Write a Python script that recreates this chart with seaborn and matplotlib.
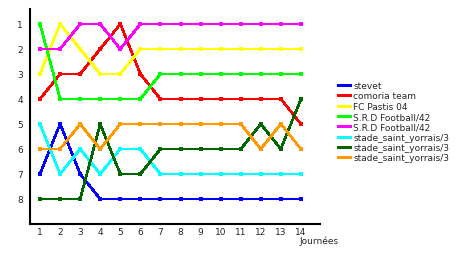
import matplotlib
matplotlib.use("Agg")
import matplotlib.pyplot as plt
import seaborn as sns
import pandas as pd

journees = list(range(1, 15))
teams = ["stevet", "comoria team", "FC Pastis 04", "S.R.D Football/42",
         "S.R.D Football/42 ", "stade_saint_yorrais/3", "stade_saint_yorrais/3 ",
         "stade_saint_yorrais/3  "]
stevet = [7, 5, 7, 8, 8, 8, 8, 8, 8, 8, 8, 8, 8, 8]
comoria = [4, 3, 3, 2, 1, 3, 4, 4, 4, 4, 4, 4, 4, 5]
pastis = [3, 1, 2, 3, 3, 2, 2, 2, 2, 2, 2, 2, 2, 2]
srd_a = [1, 4, 4, 4, 4, 4, 3, 3, 3, 3, 3, 3, 3, 3]
srd_b = [2, 2, 1, 1, 2, 1, 1, 1, 1, 1, 1, 1, 1, 1]
ssy_a = [5, 7, 6, 7, 6, 6, 7, 7, 7, 7, 7, 7, 7, 7]
ssy_b = [8, 8, 8, 5, 7, 7, 6, 6, 6, 6, 6, 5, 6, 4]
ssy_c = [6, 6, 5, 6, 5, 5, 5, 5, 5, 5, 5, 6, 5, 6]
series = [stevet, comoria, pastis, srd_a, srd_b, ssy_a, ssy_b, ssy_c]
colors = ["#0000FF", "#FF0000", "#FFFF00", "#00FF00", "#FF00FF", "#00FFFF",
          "#006600", "#FF9900"]

rows = []
for t, vals in zip(teams, series):
    for j, v in zip(journees, vals):
        rows.append({"team": t, "journee": j, "rank": v})
df = pd.DataFrame(rows)

sns.set_style("white")
plt.rcParams['font.family'] = ['DejaVu Sans']
plt.rcParams['lines.antialiased'] = False

fig = plt.figure(figsize=(4.6, 2.55), dpi=100)
ax = fig.add_axes([30/460, 1-225/255, 290/460, 215/255])
sns.lineplot(data=df, x="journee", y="rank", hue="team", palette=colors,
             hue_order=teams, marker="s", markersize=3.5, markeredgewidth=0,
             linewidth=1.2, ax=ax, legend=False, estimator=None)

ax.set_xlim(0.5, 14.95)
ax.set_ylim(9, 0.4)
ax.set_xticks(journees)
ax.set_yticks(range(1, 9))
ax.tick_params(length=0, labelsize=6.5, pad=2)
ax.tick_params(axis="y", pad=5)
ax.set_xlabel("")
ax.set_ylabel("")
for s in ["top", "right"]:
    ax.spines[s].set_visible(False)
for s in ["left", "bottom"]:
    ax.spines[s].set_color("black")
    ax.spines[s].set_linewidth(1.5)
fig.text(299/460, 1-241/255, "Journées", fontsize=6.5, va="center", ha="left")

handles = [plt.Line2D([], [], color=c, linewidth=2) for c in colors]
fig.legend(handles, [t.strip() for t in teams], loc="upper left",
           bbox_to_anchor=(338/460, 1-82/255), frameon=False, fontsize=6.5,
           handlelength=1.3, handletextpad=0.4, labelspacing=0.15,
           borderaxespad=0, borderpad=0)

fig.savefig("out.png", dpi=100)
